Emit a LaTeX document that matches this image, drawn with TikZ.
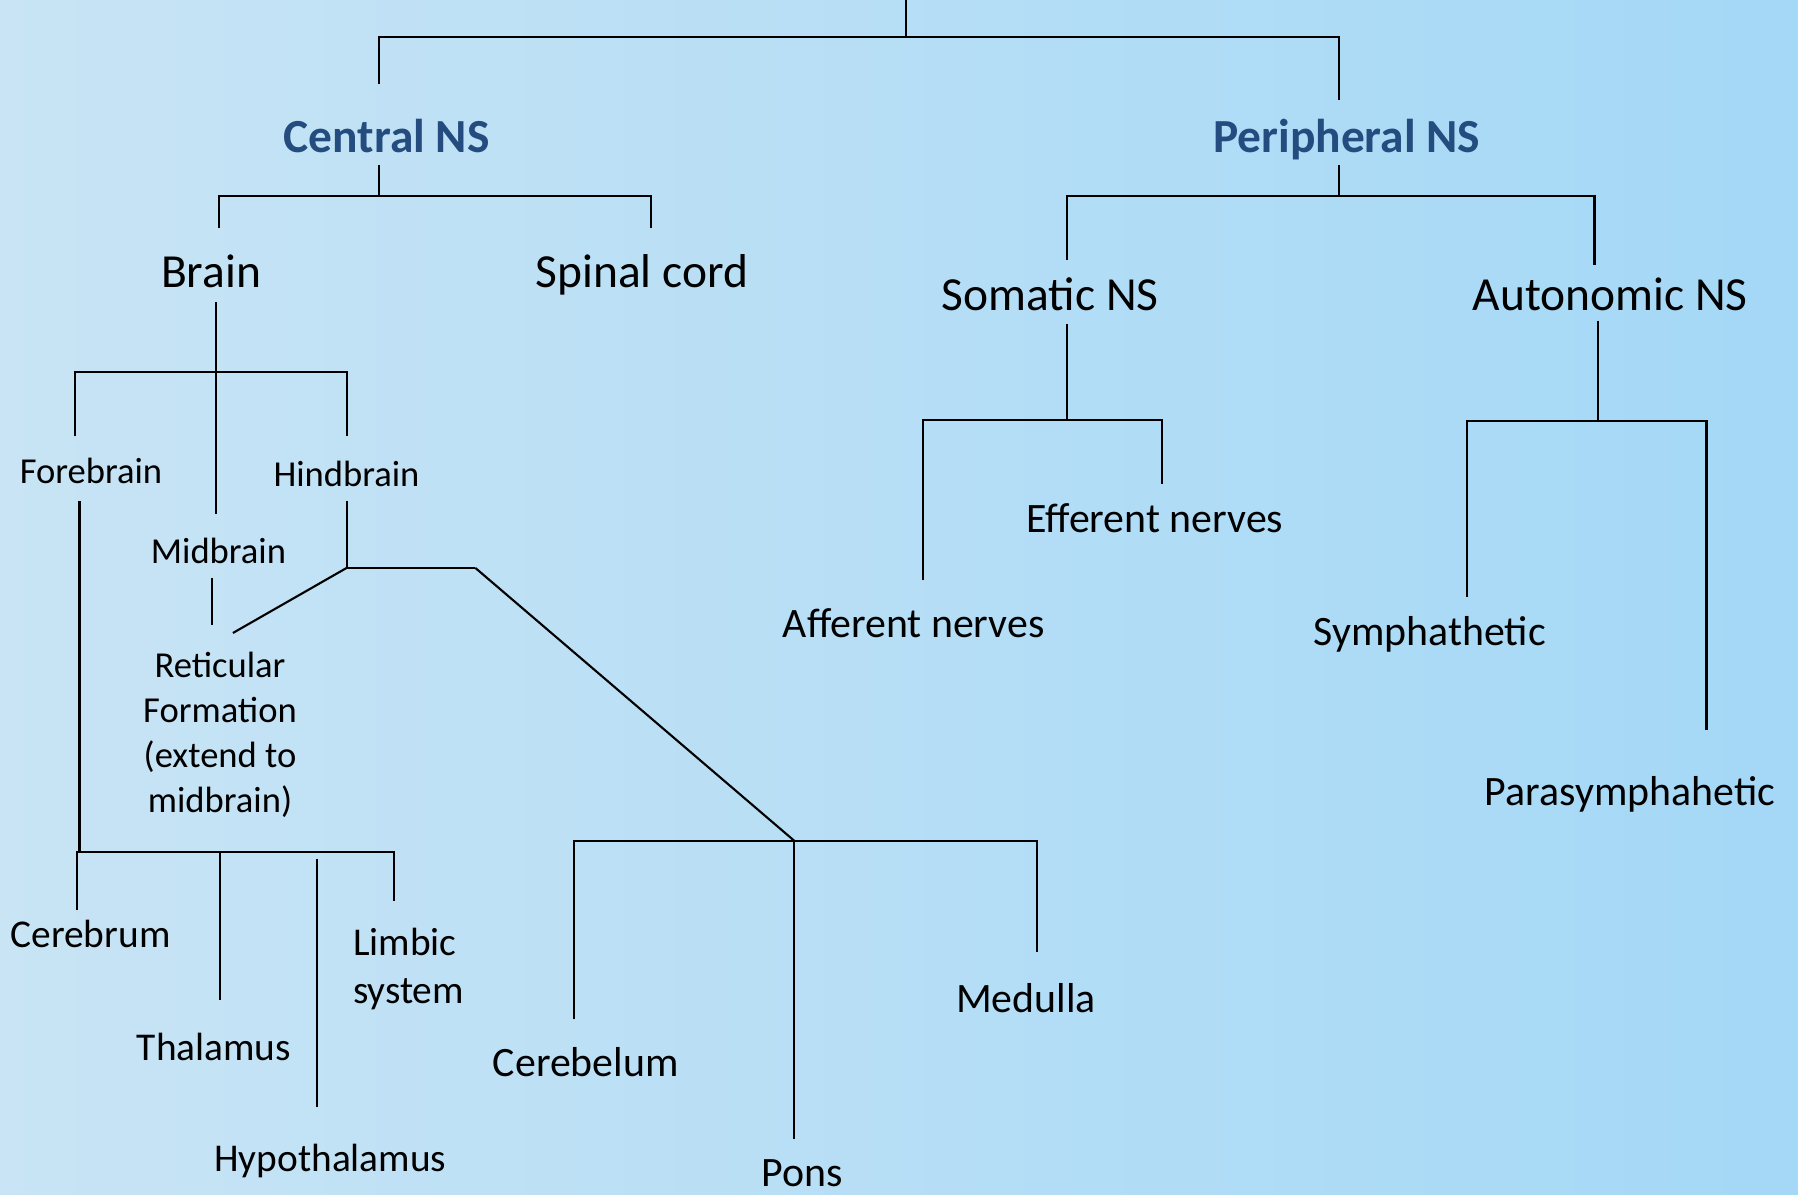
\documentclass[tikz,border=0pt]{standalone}
\usepackage{fontspec}
\setmainfont{Carlito}
\usepackage{tikz}
\usetikzlibrary{positioning, calc}
\definecolor{nshead}{RGB}{36,76,126}
\definecolor{skyL}{RGB}{200,228,245}
\definecolor{skyR}{RGB}{164,216,246}

\begin{document}
\begin{tikzpicture}[x=0.01cm, y=-0.01cm, line width=0.6pt,
    every node/.style={inner sep=0pt, anchor=base},
    lvlhead/.style={font=\fontsize{13.5}{16}\selectfont\bfseries, text=nshead},
    lvlone/.style={font=\fontsize{13.5}{16}\selectfont},
    lvltwo/.style={font=\fontsize{11.9}{14}\selectfont},
    lvlthree/.style={font=\fontsize{11.2}{13.4}\selectfont},
    lvlfour/.style={font=\fontsize{10.4}{12.8}\selectfont}]
    \useasboundingbox (0,0) rectangle (1798,1195);
    \fill[left color=skyL, right color=skyR] (0,0) rectangle (1798,1195);

    \node[lvlhead] (cns) at (386.6,152.3) {Central NS};
    \node[lvlhead] (pns) at (1346.7,152.3) {Peripheral NS};
    \node[lvlone] (brain) at (211,287.8) {Brain};
    \node[lvlone] (spinal) at (641.8,287.8) {Spinal cord};
    \node[lvlone] (somatic) at (1050.3,310.8) {Somatic NS};
    \node[lvlone] (autonomic) at (1610.2,310.8) {Autonomic NS};
    \node[lvlfour] (forebrain) at (91,484) {Forebrain};
    \node[lvlfour] (hindbrain) at (346.5,486.8) {Hindbrain};
    \node[lvlfour] (midbrain) at (218.5,563.3) {Midbrain};
    \node[lvlfour, align=center] (reticular) at (220,812.5) {Reticular\\Formation\\(extend to\\midbrain)};
    \node[lvlthree] (cerebrum) at (90.5,947.2) {Cerebrum};
    \node[lvlthree] (thalamus) at (214,1060) {Thalamus};
    \node[lvlthree] (hypothalamus) at (330.4,1171.2) {Hypothalamus};
    \node[lvlthree, align=left, anchor=base west] (limbic) at (352,1003) {Limbic\\system};
    \node[lvltwo] (cerebelum) at (585.8,1076.3) {Cerebelum};
    \node[lvltwo] (pons) at (802.5,1186.4) {Pons};
    \node[lvltwo] (medulla) at (1026,1012.9) {Medulla};
    \node[lvltwo] (efferent) at (1154.9,532.7) {Efferent nerves};
    \node[lvltwo] (afferent) at (913.7,637.2) {Afferent nerves};
    \node[lvltwo] (symphathetic) at (1429.8,646) {Symphathetic};
    \node[lvltwo] (parasymphahetic) at (1630,805) {Parasymphahetic};

    \coordinate (root) at (906,0);
    \coordinate (rootj) at (906,36.7);
    \coordinate (cnsup) at (379,84);
    \coordinate (pnsup) at (1338.7,100);
    \coordinate (cnsdn) at (379,165.3);
    \coordinate (cnsj) at (379,196.3);
    \coordinate (brainup) at (219.3,228.5);
    \coordinate (spinalup) at (651,228.5);
    \coordinate (braindn) at (215.8,302.3);
    \coordinate (brainj) at (215.8,372.4);
    \coordinate (midbrainup) at (215.8,513.6);
    \coordinate (forebrainup) at (74.6,436.3);
    \coordinate (hindbrainup) at (346.7,436.3);
    \coordinate (hindbraindn) at (346.7,501.3);
    \coordinate (hindj) at (346.7,567.9);
    \coordinate (hindr) at (475.3,567.9);
    \coordinate (reticularup) at (232.9,633);
    \coordinate (midbraindn) at (212.4,577.9);
    \coordinate (midbrainend) at (212.4,624.7);
    \coordinate (forebraindn) at (79.5,501.3);
    \coordinate (forej) at (79.5,852.4);
    \coordinate (cerebrumup) at (77.2,910.4);
    \coordinate (thalamusup) at (219.6,999.6);
    \coordinate (hypothalamusup) at (317.1,1106.6);
    \coordinate (limbicup) at (394.2,900.6);
    \coordinate (lowj) at (794.3,840.8);
    \coordinate (cerebelumup) at (573.8,1019.4);
    \coordinate (ponsup) at (794.3,1138.9);
    \coordinate (medullaup) at (1036.8,952.2);
    \coordinate (pnsdn) at (1338.7,165.3);
    \coordinate (pnsj) at (1338.7,196.3);
    \coordinate (somaticup) at (1067.2,260.2);
    \coordinate (autonomicup) at (1594.5,264.8);
    \coordinate (somaticdn) at (1067.2,323.8);
    \coordinate (somaticj) at (1067.2,420.2);
    \coordinate (afferentup) at (922.9,580.5);
    \coordinate (efferentup) at (1162.3,484.1);
    \coordinate (autonomicdn) at (1597.6,320.7);
    \coordinate (autonomicj) at (1597.6,421);
    \coordinate (symphatheticup) at (1467,596.7);
    \coordinate (parasymphaheticup) at (1706.5,730);

    \draw (root) -- (rootj);
    \draw (cnsup) |- (rootj) -| (pnsup);
    \draw (cnsdn) -- (cnsj);
    \draw (brainup) |- (cnsj) -| (spinalup);
    \draw (braindn) -- (midbrainup);
    \draw (forebrainup) |- (brainj) -| (hindbrainup);
    \draw (hindbraindn) -- (hindj) -- (hindr);
    \draw (hindj) -- (reticularup);
    \draw (midbraindn) -- (midbrainend);
    \draw (forebraindn) -- (forej);
    \draw (cerebrumup) |- (forej) -| (limbicup);
    \draw (thalamusup) -- (thalamusup |- forej);
    \draw (hypothalamusup) -- ([yshift=-2]hypothalamusup |- forej);
    \draw (hindr) -- (lowj);
    \draw (cerebelumup) |- (lowj) -| (medullaup);
    \draw (lowj) -- (ponsup);
    \draw (pnsdn) -- (pnsj);
    \draw (somaticup) |- (pnsj) -| (autonomicup);
    \draw (somaticdn) -- (somaticj);
    \draw (afferentup) |- (somaticj) -| (efferentup);
    \draw (autonomicdn) -- (autonomicj);
    \draw (symphatheticup) |- (autonomicj) -| (parasymphaheticup);
\end{tikzpicture}
\end{document}
